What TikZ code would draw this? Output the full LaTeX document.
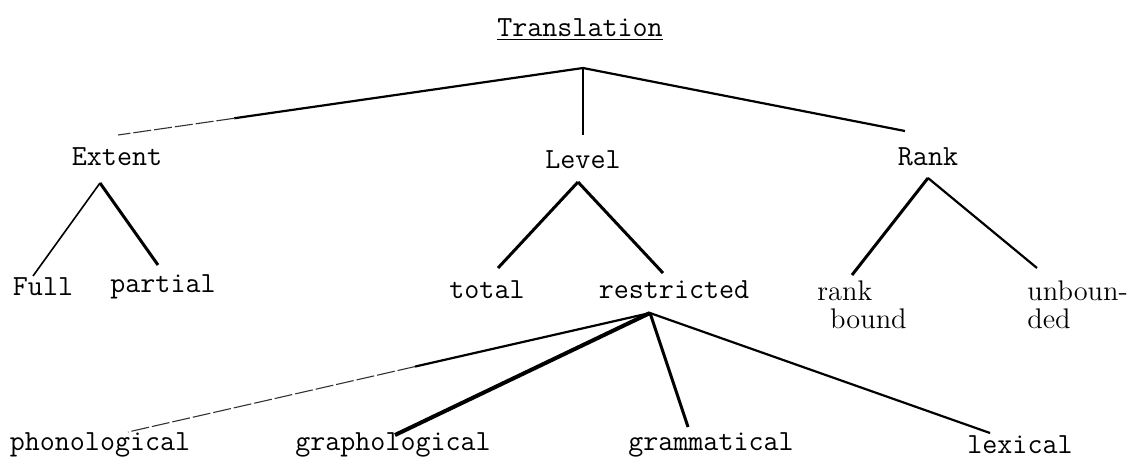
\documentclass[tikz,border=0pt]{standalone}
\usepackage{fontspec}
\usepackage{xcolor}
\usepackage{tikz}
\usetikzlibrary{positioning,calc}

\begin{document}
\begin{tikzpicture}[x=0.5pt, y=-0.5pt,
  big/.style={font=\ttfamily\fontsize{14.6}{17}\selectfont\addfontfeatures{FakeBold=0.9}, inner sep=1pt},
  serif/.style={font=\rmfamily\fontsize{14.2}{15}\selectfont\addfontfeatures{FakeBold=0.6}, align=left, inner sep=1pt},
  branch/.style={line width=1.1pt, black},
  faint/.style={line width=0.55pt, black!80, dash pattern=on 9pt off 1.5pt},
  heavy/.style={line width=1.5pt, black}]
\useasboundingbox (0,0) rectangle (1140,468);
% labels
\node[big] (trans) at (580,30) {\underline{Translation}};
\node[big] (ext) at (117,157) {Extent};
\node[big] (lev) at (583,160) {Level};
\node[big] (rank) at (928,157) {Rank};
\node[big] (full) at (43,287) {Full};
\node[big] (part) at (163,287) {partial};
\node[big] (tot) at (487,290) {total};
\node[big] (res) at (674,290) {restricted};
\node[serif, anchor=west] (rbound) at (815,305) {rank\\[-1pt]\hspace*{0.45em}bound};
\node[serif, anchor=west] (unb) at (1025,305) {unboun-\\[-1pt]ded};
\node[big] (phon) at (100,445) {phonological};
\node[big] (graph) at (393,445) {graphological};
\node[big] (gram) at (711,445) {grammatical};
\node[big] (lex) at (1020,445) {lexical};
% branch points
\coordinate (trtop) at (583,68);
\coordinate (exttop) at (100,183);
\coordinate (levtop) at (578,182);
\coordinate (ranktop) at (928,178);
\coordinate (restop) at (650,313);
% free ends
\coordinate (e-ext) at (118,135);
\coordinate (e-lev) at (583,135);
\coordinate (e-rank) at (905,131);
\coordinate (e-full) at (33,276);
\coordinate (e-part) at (158,265);
\coordinate (e-tot) at (498,268);
\coordinate (e-res) at (663,273);
\coordinate (e-rb) at (852,275);
\coordinate (e-unb) at (1037,268);
\coordinate (e-phon) at (128,432);
\coordinate (e-graph) at (395,435);
\coordinate (e-gram) at (688,427);
\coordinate (e-lex) at (990,433);
% tree
\draw[branch] (trtop) -- ($(trtop)!0.75!(e-ext)$);
\draw[faint] ($(trtop)!0.75!(e-ext)$) -- (e-ext);
\draw[branch] (trtop) -- (e-lev);
\draw[branch] (trtop) -- (e-rank);
\draw[branch, line width=0.8pt] (exttop) -- (e-full);
\draw[heavy] (exttop) -- (e-part);
\draw[heavy] (levtop) -- (e-tot);
\draw[heavy] (levtop) -- (e-res);
\draw[heavy] (ranktop) -- (e-rb);
\draw[branch] (ranktop) -- (e-unb);
\draw[branch] (restop) -- ($(restop)!0.45!(e-phon)$);
\draw[faint] ($(restop)!0.45!(e-phon)$) -- (e-phon);
\draw[heavy, line width=2pt] (restop) -- (e-graph);
\draw[heavy] (restop) -- (e-gram);
\draw[branch] (restop) -- (e-lex);
\end{tikzpicture}
\end{document}
